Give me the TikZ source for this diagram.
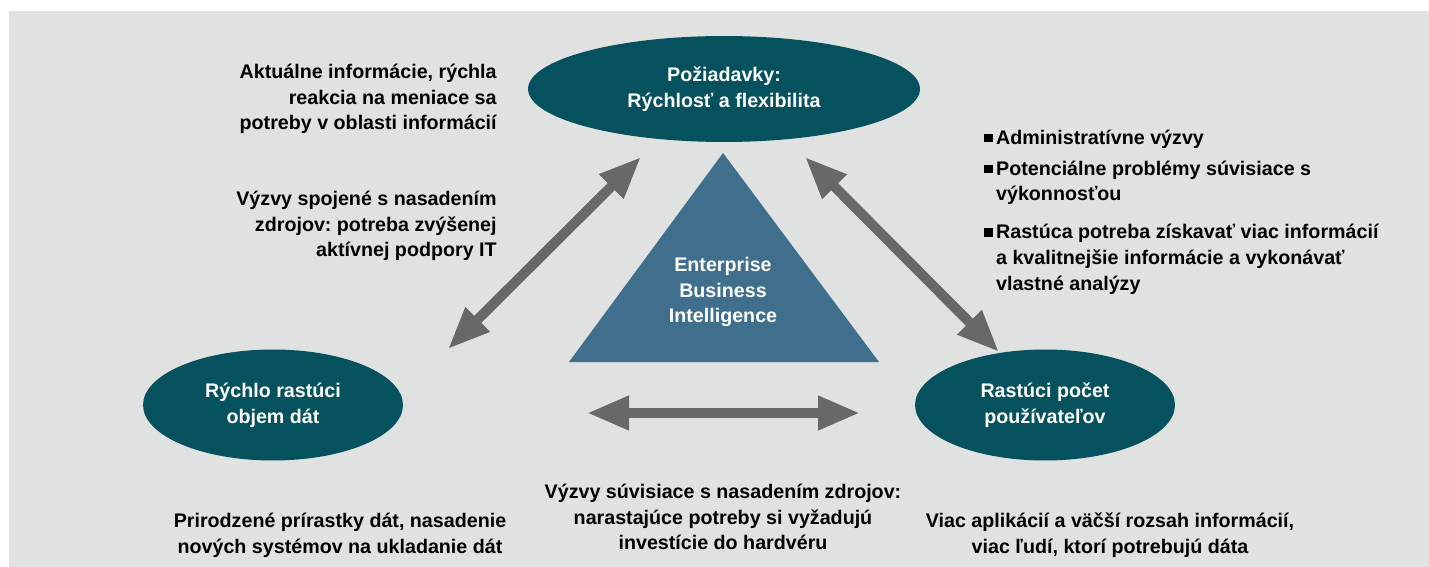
\documentclass[tikz,border=0pt]{standalone}
\usepackage{fontspec}
\setmainfont{Liberation Sans}
\usetikzlibrary{shapes.geometric,arrows.meta}
\frenchspacing

\definecolor{bggrey}{RGB}{224,225,225}
\definecolor{ellteal}{RGB}{5,81,94}
\definecolor{tristeel}{RGB}{63,111,140}
\definecolor{arrgrey}{RGB}{104,104,104}

\newcommand{\bul}{\rule[0.2ex]{0.42em}{0.42em}}

\tikzset{
	ell/.style={shape=ellipse, fill=ellteal, text=white, align=center, inner sep=0pt},
	txt/.style={font=\fontsize{11.2}{14.6}\selectfont\bfseries, text=black, inner sep=0pt},
	dbl/.style={draw=arrgrey, line width=0.2cm,
		{Triangle[width=0.64cm,length=0.84cm]}-{Triangle[width=0.64cm,length=0.84cm]}}
}

\begin{document}
\begin{tikzpicture}[x=0.02cm, y=-0.02cm]
	\useasboundingbox (0,0) rectangle (1429,567);
	\fill[bggrey] (9,11) rectangle (1429,567);

	% triangle in the middle
	\fill[tristeel] (723,153) -- (879,362) -- (569,362) -- cycle;
	\node[txt, text=white, align=center] (ebi) at (723,292) {Enterprise\\Business\\Intelligence};

	% the three ellipses
	\node[ell, txt, text=white, minimum width=7.84cm, minimum height=2.12cm] (req)   at (724,89)  {Požiadavky:\\Rýchlosť a flexibilita};
	\node[ell, txt, text=white, minimum width=5.2cm,  minimum height=2.22cm] (data)  at (273,405) {Rýchlo rastúci\\objem dát};
	\node[ell, txt, text=white, minimum width=5.2cm,  minimum height=2.22cm] (users) at (1045,405) {Rastúci počet\\používateľov};

	% arrow ends
	\coordinate (l1) at (448,349);
	\coordinate (l2) at (641,157);
	\coordinate (r1) at (805,157);
	\coordinate (r2) at (999,352);
	\coordinate (b1) at (587,413);
	\coordinate (b2) at (860,413);

	\draw[dbl] (l1) -- (l2);
	\draw[dbl] (r1) -- (r2);
	\draw[dbl] (b1) -- (b2);

	% texts
	\node[txt, align=right, anchor=east] (info) at (497,99)
		{Aktuálne informácie, rýchla\\reakcia na meniace sa\\potreby v oblasti informácií};
	\node[txt, align=right, anchor=east] (supp) at (497,226)
		{Výzvy spojené s nasadením\\zdrojov: potreba zvýšenej\\aktívnej podpory IT};
	\node[txt, anchor=north west] (issues) at (984,126)
		{\begin{tabular}{@{}l@{\hspace{2pt}}l@{}}
		\bul & Administratívne výzvy\\[3pt]
		\bul & Potenciálne problémy súvisiace s\\
		     & výkonnosťou\\[7pt]
		\bul & Rastúca potreba získavať viac informácií\\
		     & a kvalitnejšie informácie a vykonávať\\
		     & vlastné analýzy
		\end{tabular}};
	\node[txt, align=center] (store) at (340,535)
		{Prirodzené prírastky dát, nasadenie\\nových systémov na ukladanie dát};
	\node[txt, align=center] (hw) at (723,517)
		{Výzvy súvisiace s nasadením zdrojov:\\narastajúce potreby si vyžadujú\\investície do hardvéru};
	\node[txt, align=center] (apps) at (1110,535)
		{Viac aplikácií a väčší rozsah informácií,\\viac ľudí, ktorí potrebujú dáta};
\end{tikzpicture}
\end{document}
